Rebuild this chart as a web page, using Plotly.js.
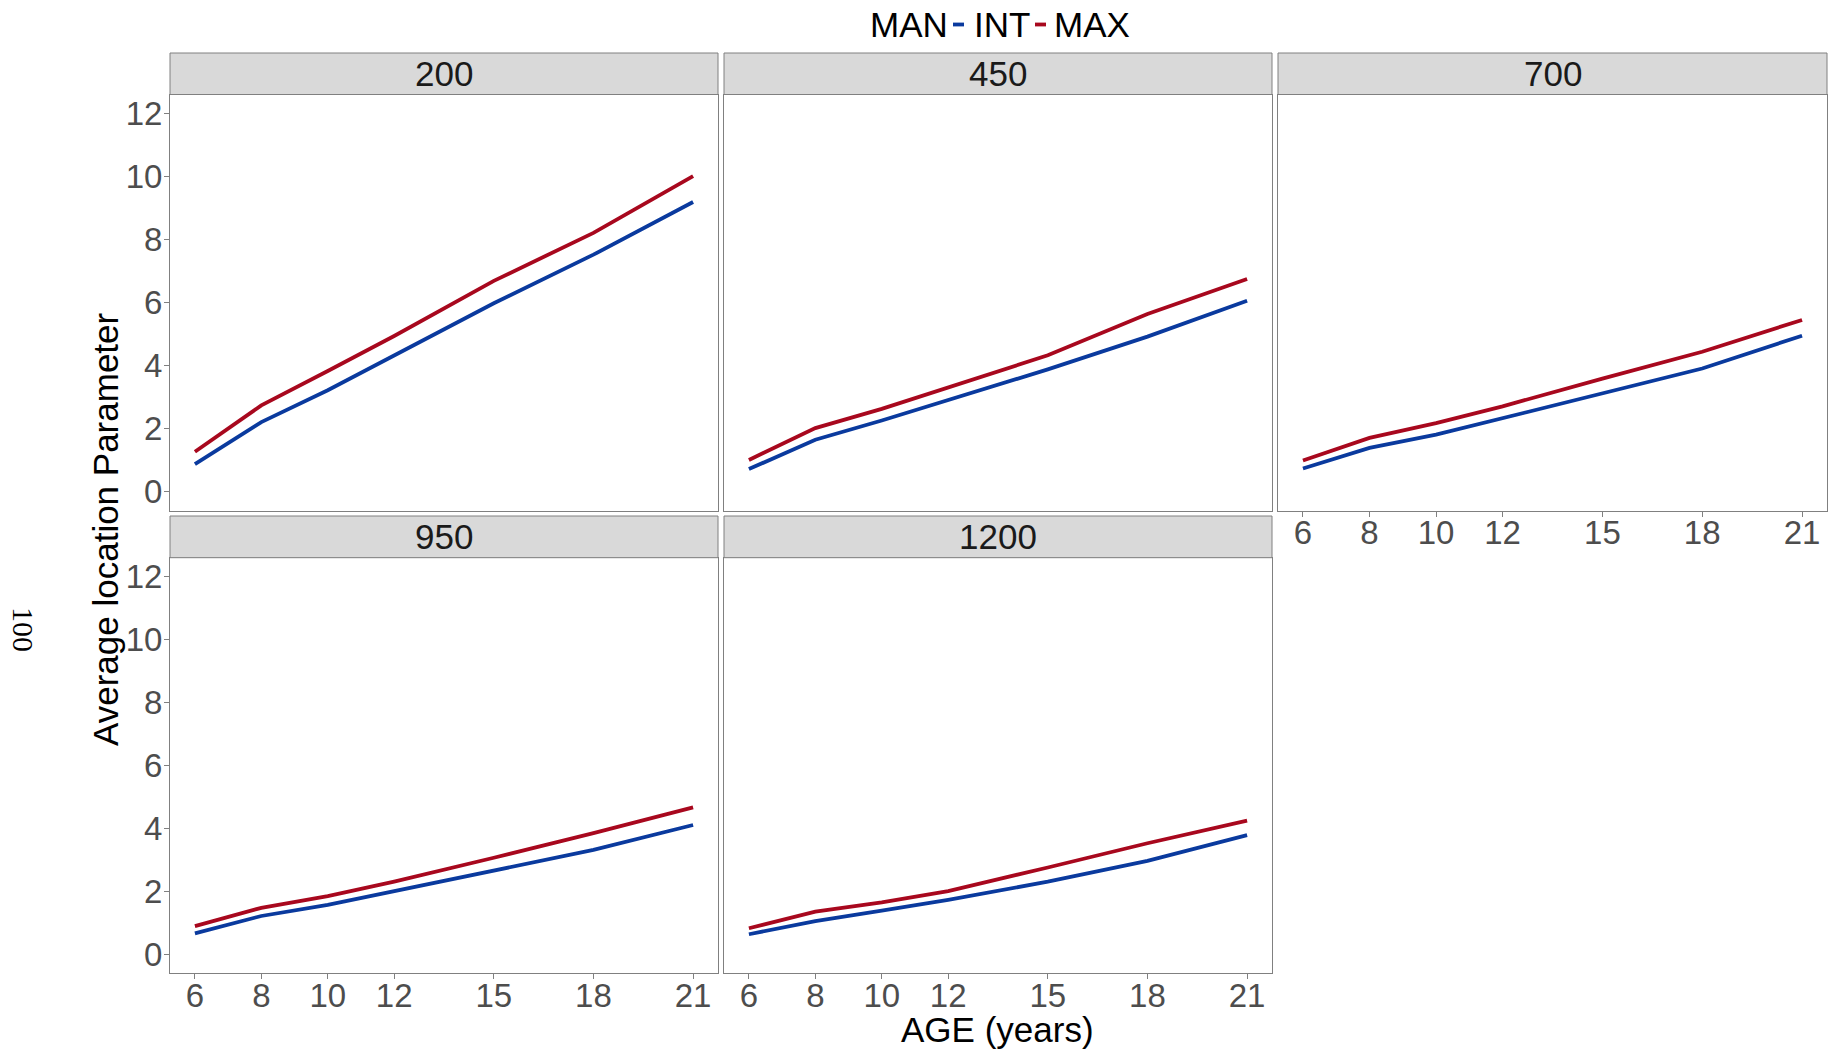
<!DOCTYPE html>
<html>
<head>
<meta charset="utf-8">
<script src="https://cdn.plot.ly/plotly-3.0.1.min.js"></script>
<style>html,body{margin:0;padding:0;background:#fff;}#chart{width:1839px;height:1051px;}</style>
</head>
<body>
<div id="chart"></div>
<script>
// ---- data ----
const ages = [6, 8, 10, 12, 15, 18, 21];
const ageTicks = [6, 8, 10, 12, 15, 18, 21];
const yTicks = [0, 2, 4, 6, 8, 10, 12];
const panelLabels = ['200', '450', '700', '950', '1200'];
const legendTitle = 'MAN';
const seriesNames = ['INT', 'MAX'];

const int_200  = [0.88, 2.21, 3.22, 4.33, 5.98, 7.52, 9.19];
const max_200  = [1.27, 2.74, 3.83, 4.94, 6.69, 8.21, 10.01];
const int_450  = [0.72, 1.65, 2.26, 2.91, 3.88, 4.92, 6.06];
const max_450  = [1.01, 2.02, 2.63, 3.31, 4.33, 5.64, 6.75];
const int_700  = [0.74, 1.39, 1.81, 2.34, 3.11, 3.91, 4.95];
const max_700  = [0.99, 1.71, 2.18, 2.71, 3.59, 4.44, 5.45];
const int_950  = [0.67, 1.22, 1.57, 2.01, 2.68, 3.32, 4.11];
const max_950  = [0.90, 1.48, 1.85, 2.31, 3.07, 3.85, 4.67];
const int_1200 = [0.64, 1.06, 1.39, 1.73, 2.31, 2.97, 3.79];
const max_1200 = [0.83, 1.36, 1.65, 2.01, 2.76, 3.53, 4.25];

const intSeries = [int_200, int_450, int_700, int_950, int_1200];
const maxSeries = [max_200, max_450, max_700, max_950, max_1200];

// ---- style / layout ----
const W = 1839, H = 1051;
const colors = {INT: '#0a3a9e', MAX: '#a8081e'};
const borderColor = '#808080';
const FONT = 'Liberation Sans, Arial, sans-serif';
const px = v => v / W;
const py = v => 1 - v / H;

const cols = [[170, 718], [724, 1272], [1278, 1827]];
const rows = [{strip: [53, 94.5], plot: [94.5, 510.7]},
              {strip: [516, 557.7], plot: [557.7, 973.3]}];
const grid = [[0, 0], [0, 1], [0, 2], [1, 0], [1, 1]];
const showX = [false, false, true, true, true];
const showY = [true, false, false, true, false];

const traces = [];
const layout = {
  width: W, height: H,
  margin: {l: 0, r: 0, t: 0, b: 0},
  paper_bgcolor: '#ffffff', plot_bgcolor: '#ffffff',
  showlegend: false,
  shapes: [], annotations: []
};

panelLabels.forEach((lab, i) => {
  const [r, c] = grid[i];
  const n = i === 0 ? '' : String(i + 1);
  const xa = 'xaxis' + n, ya = 'yaxis' + n;
  const xr = 'x' + n, yr = 'y' + n;
  [[seriesNames[0], intSeries[i]], [seriesNames[1], maxSeries[i]]].forEach(([name, vals]) => {
    traces.push({
      type: 'scatter', mode: 'lines', x: ages, y: vals, name: name,
      xaxis: xr, yaxis: yr,
      line: {color: colors[name], width: 3.8}
    });
  });
  layout[xa] = {
    domain: [px(cols[c][0]), px(cols[c][1])],
    anchor: yr,
    range: [5.25, 21.75],
    tickmode: 'array', tickvals: ageTicks, ticktext: ageTicks.map(String),
    showgrid: false, zeroline: false,
    showline: true, mirror: true, linecolor: borderColor, linewidth: 1,
    ticks: showX[i] ? 'outside' : '', ticklen: 5, tickwidth: 1, tickcolor: borderColor,
    showticklabels: showX[i], ticklabelstandoff: -12,
    tickfont: {family: FONT, size: 33, color: '#4d4d4d'},
    fixedrange: true
  };
  layout[ya] = {
    domain: [py(rows[r].plot[1]), py(rows[r].plot[0])],
    anchor: xr,
    range: [-0.6, 12.6],
    tickmode: 'array', tickvals: yTicks, ticktext: yTicks.map(String),
    showgrid: false, zeroline: false,
    showline: true, mirror: true, linecolor: borderColor, linewidth: 1,
    ticks: showY[i] ? 'outside' : '', ticklen: 5, tickwidth: 1, tickcolor: borderColor,
    showticklabels: showY[i], ticklabelstandoff: -5,
    tickfont: {family: FONT, size: 33, color: '#4d4d4d'},
    fixedrange: true
  };
  layout.shapes.push({
    type: 'rect', xref: 'paper', yref: 'paper',
    x0: px(cols[c][0]), x1: px(cols[c][1]),
    y0: py(rows[r].strip[1]), y1: py(rows[r].strip[0]),
    fillcolor: '#d9d9d9', line: {color: borderColor, width: 1}
  });
  layout.annotations.push({
    xref: 'paper', yref: 'paper',
    x: px((cols[c][0] + cols[c][1]) / 2), y: py((rows[r].strip[0] + rows[r].strip[1]) / 2),
    xanchor: 'center', yanchor: 'middle', showarrow: false,
    text: lab, font: {family: FONT, size: 35, color: '#1a1a1a'}
  });
});

// legend (drawn as text + key segments)
const legY = 24.5;
layout.annotations.push({xref: 'paper', yref: 'paper', x: px(868), y: py(legY),
  xanchor: 'left', yanchor: 'middle', showarrow: false, text: legendTitle,
  font: {family: FONT, size: 35, color: '#000'}});
const legItems = [{name: seriesNames[0], key: [953, 964], text: 972},
                  {name: seriesNames[1], key: [1035, 1046], text: 1052}];
legItems.forEach(it => {
  layout.shapes.push({type: 'line', xref: 'paper', yref: 'paper',
    x0: px(it.key[0]), x1: px(it.key[1]), y0: py(legY), y1: py(legY),
    line: {color: colors[it.name], width: 3.8}});
  layout.annotations.push({xref: 'paper', yref: 'paper', x: px(it.text), y: py(legY),
    xanchor: 'left', yanchor: 'middle', showarrow: false, text: it.name,
    font: {family: FONT, size: 35, color: '#000'}});
});

// axis titles
layout.annotations.push({xref: 'paper', yref: 'paper', x: px(997.5), y: py(1029),
  xanchor: 'center', yanchor: 'middle', showarrow: false, text: 'AGE (years)',
  font: {family: FONT, size: 35, color: '#000'}});
layout.annotations.push({xref: 'paper', yref: 'paper', x: px(105), y: py(529),
  xanchor: 'center', yanchor: 'middle', showarrow: false, textangle: -90,
  text: 'Average location Parameter',
  font: {family: FONT, size: 35, color: '#000'}});
layout.annotations.push({xref: 'paper', yref: 'paper', x: px(24), y: py(629),
  xanchor: 'center', yanchor: 'middle', showarrow: false, textangle: 90,
  text: '100',
  font: {family: 'Liberation Serif, Times New Roman, serif', size: 30, color: '#000'}});

Plotly.newPlot('chart', traces, layout, {displayModeBar: false, staticPlot: true});
</script>
</body>
</html>
